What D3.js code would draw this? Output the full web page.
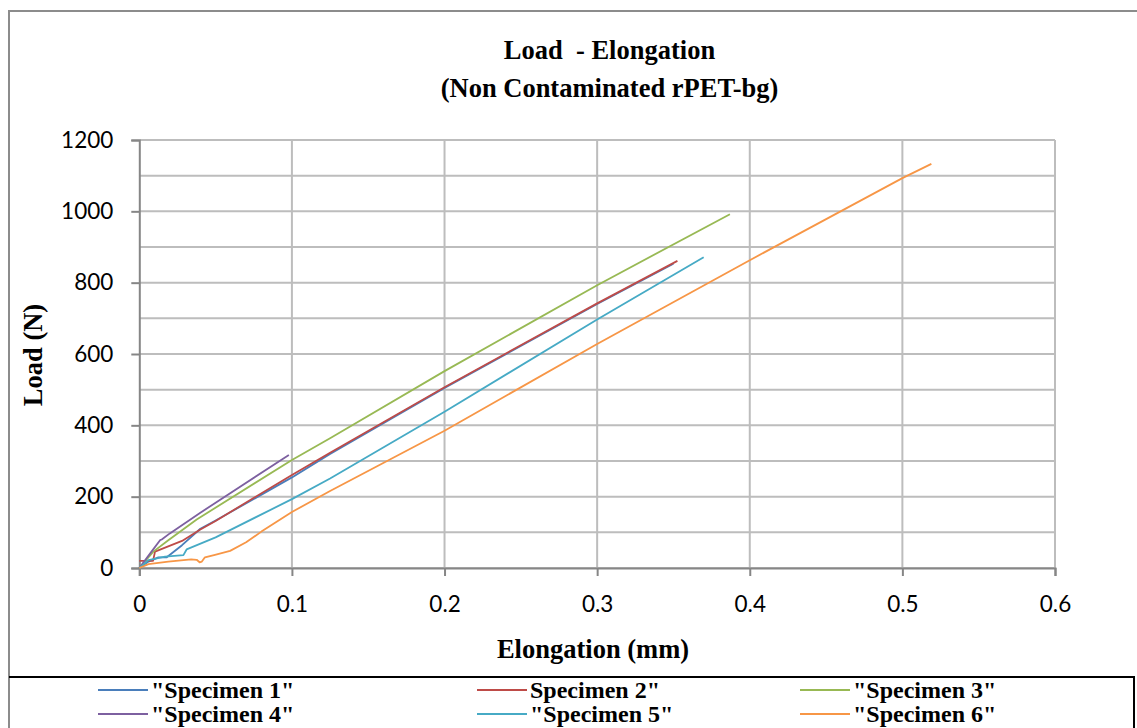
<!DOCTYPE html>
<html><head><meta charset="utf-8">
<script src="https://cdn.jsdelivr.net/npm/d3@7"></script>
<style>
html,body{margin:0;padding:0;background:#fff;}
svg{display:block;}
</style></head>
<body>
<svg id="chart" width="1137" height="728"></svg>
<script>
// ---- data ----
const seriesNames = ['"Specimen 1"', 'Specimen 2"', '"Specimen 3"', '"Specimen 4"', '"Specimen 5"', '"Specimen 6"'];
const seriesColors = ["#4A7EBB", "#BE4B48", "#98B954", "#7D60A0", "#46AAC5", "#F79646"];
const specimen1 = [[0,0],[0.006,18],[0.0125,30],[0.018,30],[0.028,64],[0.04,110],[0.05,133],[0.1,254],[0.125,320],[0.2,505],[0.3,740],[0.35,853]];
const specimen2 = [[0,20],[0.009,20],[0.0103,46],[0.028,76],[0.04,108],[0.05,132],[0.1,261],[0.125,323],[0.2,507],[0.3,742],[0.3526,861]];
const specimen3 = [[0,0],[0.0092,46],[0.019,78],[0.0376,136],[0.1,303],[0.125,364],[0.2,552],[0.3,793],[0.387,992]];
const specimen4 = [[0,0],[0.008,46],[0.0136,78],[0.0147,80],[0.02,97],[0.04,155],[0.098,317]];
const specimen5 = [[0,0],[0.006,22],[0.0169,32],[0.0289,36],[0.031,52],[0.05,86],[0.1,193],[0.125,251],[0.2,438],[0.3,697],[0.3698,871]];
const specimen6 = [[0,0],[0.006,11],[0.019,18],[0.034,24],[0.0376,23],[0.0395,16],[0.041,18],[0.043,30],[0.0496,37],[0.0595,48],[0.07,72],[0.08,102],[0.09,130],[0.1,157],[0.125,216],[0.2,385],[0.3,628],[0.4,863],[0.5,1093],[0.519,1133]];
const allSeries = [specimen1, specimen2, specimen3, specimen4, specimen5, specimen6];
const xTicks = [0, 0.1, 0.2, 0.3, 0.4, 0.5, 0.6];
const yTicks = [0, 200, 400, 600, 800, 1000, 1200];
const yGrid = [0,100,200,300,400,500,600,700,800,900,1000,1100,1200];
const titleText = "Load  - Elongation";
const subtitleText = "(Non Contaminated rPET-bg)";
const xLabel = "Elongation (mm)";
const yLabel = "Load (N)";

// ---- drawing ----
const svg = d3.select("#chart");
const x = d3.scaleLinear().domain([0, 0.6]).range([139.3, 1055]);
const y = d3.scaleLinear().domain([0, 1200]).range([568, 140]);
const serif = "'Liberation Serif','Times New Roman',serif";
const sans = "Lato, 'Open Sans', sans-serif";

// outer frame
svg.append("path").attr("d", "M9,728 L9,11 L1137,11").attr("fill","none").attr("stroke","#8c8c8c").attr("stroke-width",2);

// grid
svg.append("g").selectAll("line").data(yGrid).join("line")
  .attr("x1", x(0)).attr("x2", x(0.6)).attr("y1", d=>y(d)).attr("y2", d=>y(d))
  .attr("stroke","#bdbdbd").attr("stroke-width",2);
svg.append("g").selectAll("line").data(xTicks.slice(1)).join("line")
  .attr("x1", d=>x(d)).attr("x2", d=>x(d)).attr("y1", y(1200)).attr("y2", y(0))
  .attr("stroke","#bdbdbd").attr("stroke-width",2);

// axes
const yAxis = d3.axisLeft(y).tickValues(yTicks).tickSize(8).tickPadding(18).tickFormat(d3.format("d"));
const gy = svg.append("g").attr("transform", `translate(${x(0)},0)`).call(yAxis);
gy.select(".domain").attr("stroke","#868686").attr("stroke-width",2);
gy.selectAll(".tick line").attr("stroke","#868686").attr("stroke-width",2);
gy.selectAll(".tick text").attr("font-family", sans).attr("font-size", 22.5).attr("fill","#000");

const xAxis = d3.axisBottom(x).tickValues(xTicks).tickSize(8).tickPadding(20).tickFormat(d => d === 0 ? "0" : d3.format(".1f")(d));
const gx = svg.append("g").attr("transform", `translate(0,${y(0)})`).call(xAxis);
gx.select(".domain").attr("stroke","#868686").attr("stroke-width",2);
gx.selectAll(".tick line").attr("stroke","#868686").attr("stroke-width",2);
gx.selectAll(".tick text").attr("font-family", sans).attr("font-size", 22.5).attr("fill","#000");

// series
const line = d3.line().x(d=>x(d[0])).y(d=>y(d[1]));
svg.append("g").selectAll("path").data(allSeries).join("path")
  .attr("d", line).attr("fill","none")
  .attr("stroke", (d,i)=>seriesColors[i]).attr("stroke-width",1.8).attr("stroke-linejoin","round");

// titles
svg.append("text").attr("x", 609.5).attr("y", 59).attr("text-anchor","middle")
  .attr("font-family", serif).attr("font-weight","bold").attr("font-size",26.5)
  .style("white-space","pre").text(titleText);
svg.append("text").attr("x", 609.5).attr("y", 97).attr("text-anchor","middle")
  .attr("font-family", serif).attr("font-weight","bold").attr("font-size",26.5).text(subtitleText);
svg.append("text").attr("x", 593).attr("y", 658).attr("text-anchor","middle")
  .attr("font-family", serif).attr("font-weight","bold").attr("font-size",26.5).text(xLabel);
svg.append("text").attr("transform","translate(42,355) rotate(-90)").attr("text-anchor","middle")
  .attr("font-family", serif).attr("font-weight","bold").attr("font-size",26.5).text(yLabel);

// legend
svg.append("path").attr("d","M9,677 L1134,677 L1134,728").attr("fill","none").attr("stroke","#000").attr("stroke-width",2);
const legX = [98, 477, 800];
const legY = [690, 714];
const leg = svg.append("g").selectAll("g").data(seriesNames).join("g")
  .attr("transform",(d,i)=>`translate(${legX[i%3]},${legY[Math.floor(i/3)]})`);
leg.append("line").attr("x1",0).attr("x2",50).attr("y1",0).attr("y2",0)
  .attr("stroke",(d,i)=>seriesColors[i]).attr("stroke-width",2);
leg.append("text").attr("x",53).attr("y",8).attr("font-family",serif).attr("font-weight","bold")
  .attr("font-size",24).text(d=>d);
</script>
</body></html>
